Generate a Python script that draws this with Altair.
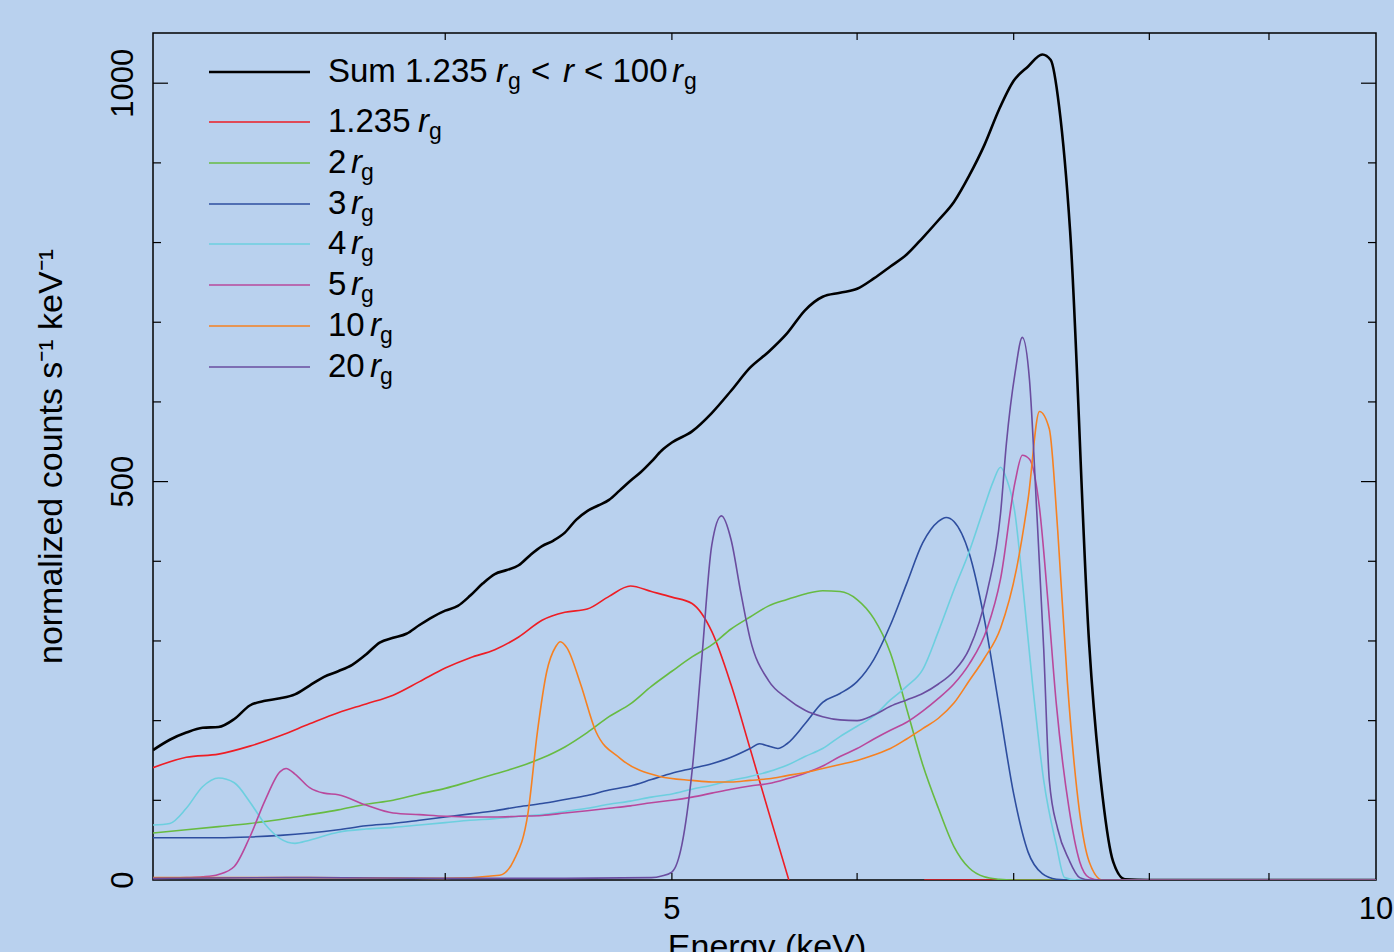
import altair as alt
import pandas as pd

# ---------------- data ----------------
SERIES = ["Sum", "1.235", "2", "3", "4", "5", "10", "20"]
COLORS = ["#000000", "#ee1d24", "#67bb42", "#2e4e9f", "#6dcfdf", "#b9489c", "#f68121", "#6a4d9f"]

E_SUM = [3.00, 3.05, 3.10, 3.15, 3.20, 3.25, 3.30, 3.35, 3.40, 3.45, 3.50, 3.55, 3.60, 3.65, 3.70,
         3.75, 3.80, 3.85, 3.90, 3.95, 4.00, 4.05, 4.10, 4.15, 4.20, 4.25, 4.30, 4.35, 4.40, 4.45,
         4.50, 4.55, 4.60, 4.65, 4.70, 4.75, 4.80, 4.85, 4.90, 4.95, 5.00, 5.10, 5.20, 5.30, 5.40,
         5.50, 5.60, 5.70, 5.80, 5.90, 6.00, 6.10, 6.20, 6.30, 6.40, 6.50, 6.60, 6.70, 6.80, 6.90,
         7.00, 7.10, 7.20, 7.26, 7.32, 7.40, 7.54, 7.64, 7.72, 7.81, 8.00, 9.00, 10.0]
Y_SUM = [163, 176, 185, 191, 192, 202, 219, 225, 228, 233, 244, 255, 262, 270, 283,
         298, 304, 309, 320, 330, 338, 344, 357, 372, 384, 389, 395, 408, 419, 426,
         436, 452, 463, 470, 477, 489, 501, 512, 525, 539, 549, 563, 586, 614, 643,
         663, 686, 715, 732, 737, 742, 755, 770, 785, 806, 828, 851, 884, 922, 967,
         1003, 1021, 1036, 1029, 971, 814, 296, 105, 23, 1, 0, 0, 0]

E_RED = [3.0, 3.1, 3.2, 3.3, 3.4, 3.5, 3.6, 3.7, 3.8, 3.9, 4.0, 4.1, 4.2, 4.3, 4.4, 4.5, 4.6,
         4.7, 4.8, 4.9, 5.0, 5.1, 5.2, 5.3, 5.4, 5.5, 5.61]
Y_RED = [141, 154, 158, 168, 181, 196, 210, 221, 232, 249, 266, 279, 289, 305, 326, 336, 340,
         356, 369, 362, 355, 347, 312, 245, 165, 85, 0]
E_RED2 = [6.41, 10.0]
Y_RED2 = [0, 0]

E_GREEN = [3.0, 3.1, 3.2, 3.3, 3.4, 3.5, 3.6, 3.7, 3.8, 3.9, 4.0, 4.1, 4.2, 4.3, 4.4, 4.5, 4.6,
           4.7, 4.8, 4.9, 5.0, 5.1, 5.2, 5.3, 5.4, 5.5, 5.6, 5.7, 5.8, 5.9, 6.0, 6.1, 6.2, 6.3,
           6.4, 6.5, 6.6, 6.7, 6.8, 6.9, 7.0, 10.0]
Y_GREEN = [59, 63, 67, 71, 76, 82, 88, 95, 100, 108, 115, 124, 133, 142, 153, 167, 185,
           205, 221, 243, 262, 280, 295, 315, 330, 344, 352, 359, 363, 362, 352, 328, 285, 215,
           145, 90, 42, 15, 4, 1, 0, 0]

E_BLUE = [3.0, 3.1, 3.2, 3.3, 3.4, 3.5, 3.6, 3.7, 3.8, 3.9, 4.0, 4.1, 4.2, 4.3, 4.4, 4.5, 4.6,
          4.7, 4.8, 4.9, 5.0, 5.1, 5.2, 5.3, 5.4, 5.45, 5.5, 5.55, 5.6, 5.7, 5.8, 5.9, 6.0, 6.1,
          6.2, 6.3, 6.4, 6.5, 6.55, 6.6, 6.7, 6.8, 6.9, 7.0, 7.1, 7.2, 7.3, 7.4, 10.0]
Y_BLUE = [53, 53, 53, 54, 56, 59, 63, 68, 71, 75, 79, 83, 87, 92, 96, 101, 106,
          113, 118, 126, 134, 140, 146, 154, 165, 171, 168, 165, 171, 196, 223, 234, 249, 277,
          320, 372, 423, 450, 455, 450, 410, 328, 218, 108, 35, 8, 1, 0, 0]

E_CYAN = [3.0, 3.05, 3.1, 3.15, 3.2, 3.25, 3.3, 3.35, 3.4, 3.45, 3.5, 3.6, 3.7, 3.8, 3.9, 4.0,
          4.1, 4.2, 4.3, 4.4, 4.5, 4.6, 4.7, 4.8, 4.9, 5.0, 5.1, 5.2, 5.3, 5.4, 5.5, 5.6, 5.7,
          5.8, 5.9, 6.0, 6.1, 6.2, 6.3, 6.4, 6.5, 6.6, 6.7, 6.8, 6.86, 6.91, 6.95, 7.01, 7.06,
          7.13, 7.21, 7.30, 7.36, 7.45, 10.0]
Y_CYAN = [69, 71, 90, 117, 128, 122, 98, 70, 52, 46, 50, 60, 64, 66, 69, 72,
          75, 77, 80, 82, 86, 90, 95, 99, 104, 108, 114, 119, 125, 130, 136, 144, 155,
          165, 180, 193, 206, 226, 243, 264, 312, 364, 412, 468, 500, 518, 504, 459, 375,
          248, 125, 44, 3, 0, 0]

E_MAG = [3.0, 3.1, 3.15, 3.2, 3.25, 3.3, 3.35, 3.4, 3.42, 3.45, 3.5, 3.55, 3.6, 3.7, 3.8, 3.9,
         4.0, 4.1, 4.2, 4.3, 4.4, 4.5, 4.6, 4.7, 4.8, 4.9, 5.0, 5.1, 5.2, 5.3, 5.4, 5.5, 5.6,
         5.7, 5.8, 5.9, 6.0, 6.1, 6.2, 6.3, 6.4, 6.5, 6.6, 6.7, 6.82, 6.91, 7.01, 7.06, 7.11,
         7.18, 7.24, 7.30, 7.39, 7.47, 7.54, 7.62, 10.0]
Y_MAG = [2, 3, 4, 7, 17, 54, 100, 136, 140, 133, 116, 109, 107, 94, 84, 82,
         80, 79, 79, 80, 81, 84, 87, 90, 93, 97, 100, 104, 109, 114, 118, 121, 127,
         134, 143, 155, 165, 177, 188, 198, 212, 228, 246, 271, 316, 378, 500, 533, 528,
         467, 350, 221, 92, 23, 3, 0, 0]

E_ORANGE = [3.0, 3.5, 4.0, 4.22, 4.28, 4.34, 4.38, 4.42, 4.46, 4.48, 4.51, 4.57, 4.64, 4.75,
            4.94, 5.1, 5.2, 5.3, 5.4, 5.5, 5.6, 5.7, 5.8, 5.9, 6.0, 6.1, 6.2, 6.3, 6.4, 6.5,
            6.6, 6.7, 6.8, 6.91, 7.02, 7.1, 7.18, 7.25, 7.31, 7.38, 7.47, 7.54, 7.64, 10.0]
Y_ORANGE = [3, 3, 2, 6, 25, 85, 186, 261, 293, 299, 291, 246, 186, 153,
            130, 125, 123, 123, 125, 127, 131, 135, 140, 145, 150, 157, 165, 177, 190, 203,
            222, 250, 278, 316, 391, 478, 588, 566, 439, 248, 84, 23, 0, 0]

E_PURPLE = [3.0, 3.5, 4.0, 4.5, 4.9, 4.95, 5.0, 5.05, 5.1, 5.15, 5.2, 5.25, 5.3, 5.35, 5.4,
            5.5, 5.6, 5.7, 5.8, 5.9, 6.0, 6.1, 6.2, 6.3, 6.4, 6.5, 6.6, 6.7, 6.82, 6.91, 6.95,
            7.01, 7.06, 7.11, 7.16, 7.21, 7.25, 7.31, 7.39, 7.47, 7.55, 10.0]
Y_PURPLE = [2, 3, 2, 2, 3, 5, 10, 45, 136, 280, 420, 457, 427, 362, 303,
            250, 228, 213, 205, 201, 200, 207, 218, 226, 234, 246, 262, 290, 362, 460, 548,
            637, 681, 627, 465, 290, 125, 64, 26, 3, 0, 0]

X_TICKS = [4, 5, 6, 7, 8, 9]
Y_MINOR = [100, 200, 300, 400, 600, 700, 800, 900]
Y_MAJOR = [500, 1000]
X_LABELS = [5, 10]
Y_LABELS = [0, 500, 1000]
X_TITLE = "Energy (keV)"
Y_TITLE = "normalized counts s⁻¹ keV⁻¹"

# ---------------- layout ----------------
W, H = 1223, 847
FONT = "Liberation Sans"

x_scale = alt.Scale(type="log", domain=[3, 10], nice=False)
y_scale = alt.Scale(domain=[0, 1063], nice=False, zero=False)


def frame(es, ys, seg=0):
    return pd.DataFrame({"E": es, "Y": ys, "seg": [seg] * len(es)})


series_data = {
    "Sum": frame(E_SUM, Y_SUM),
    "1.235": pd.concat([frame(E_RED, Y_RED, 0), frame(E_RED2, Y_RED2, 1)]),
    "2": frame(E_GREEN, Y_GREEN),
    "3": frame(E_BLUE, Y_BLUE),
    "4": frame(E_CYAN, Y_CYAN),
    "5": frame(E_MAG, Y_MAG),
    "10": frame(E_ORANGE, Y_ORANGE),
    "20": frame(E_PURPLE, Y_PURPLE),
}

layers = []
for i, name in enumerate(SERIES):
    layers.append(
        alt.Chart(series_data[name]).mark_line(
            clip=True, interpolate="monotone", color=COLORS[i],
            strokeWidth=2.6 if name == "Sum" else 1.6,
        ).encode(
            x=alt.X("E:Q", scale=x_scale, axis=None),
            y=alt.Y("Y:Q", scale=y_scale, axis=None),
            detail="seg:N",
        )
    )

# inward ticks on all four sides
xt = pd.DataFrame({"E": X_TICKS})
for y0, y1 in [(H, H - 7), (0, 7)]:
    layers.append(alt.Chart(xt).mark_rule(color="black", strokeWidth=1.2).encode(
        x=alt.X("E:Q", scale=x_scale, axis=None), y=alt.value(y0), y2=alt.value(y1)))
for vals, ln in [(Y_MINOR, 8), (Y_MAJOR, 15)]:
    yt = pd.DataFrame({"Y": vals})
    for x0, x1 in [(0, ln), (W, W - ln)]:
        layers.append(alt.Chart(yt).mark_rule(color="black", strokeWidth=1.2).encode(
            y=alt.Y("Y:Q", scale=y_scale, axis=None), x=alt.value(x0), x2=alt.value(x1)))

# tick labels (through the scales)
xl = pd.DataFrame({"E": X_LABELS, "t": [str(v) for v in X_LABELS]})
layers.append(alt.Chart(xl).mark_text(
    font=FONT, fontSize=31, color="black", align="center", baseline="alphabetic").encode(
    x=alt.X("E:Q", scale=x_scale, axis=None), y=alt.value(H + 39), text="t:N"))
yl = pd.DataFrame({"Y": Y_LABELS, "t": [str(v) for v in Y_LABELS]})
layers.append(alt.Chart(yl).mark_text(
    font=FONT, fontSize=31, color="black", align="center", baseline="alphabetic",
    angle=270).encode(
    y=alt.Y("Y:Q", scale=y_scale, axis=None), x=alt.value(-20), text="t:N"))

# axis titles
layers.append(alt.Chart(pd.DataFrame({"t": [X_TITLE]})).mark_text(
    font=FONT, fontSize=34, color="black", align="center", baseline="alphabetic").encode(
    x=alt.value(614), y=alt.value(H + 78), text="t:N"))
layers.append(alt.Chart(pd.DataFrame({"t": [Y_TITLE]})).mark_text(
    font=FONT, fontSize=34, color="black", align="center", baseline="alphabetic",
    angle=270).encode(
    x=alt.value(-91), y=alt.value(H / 2), text="t:N"))

# ---------------- hand-built legend ----------------
ROW_Y = [39, 89, 130, 171, 211, 252, 293, 334]
leg_lines = pd.DataFrame({"name": SERIES, "ly": ROW_Y})
for i, name in enumerate(SERIES):
    layers.append(alt.Chart(leg_lines[leg_lines.name == name]).mark_rule(
        color=COLORS[i], strokeWidth=2.6 if name == "Sum" else 1.6).encode(
        x=alt.value(56), x2=alt.value(157),
        y=alt.Y("ly:Q", scale=None, axis=None)))

pieces = []
row0 = [("n", 175, "Sum 1.235"), ("i", 343, "r"), ("s", 355, "g"), ("n", 378, "<"),
        ("i", 410, "r"), ("n", 431, "< 100"), ("i", 519, "r"), ("s", 531, "g")]
for k, px, t in row0:
    pieces.append((k, px, ROW_Y[0] + 10, t))
for r, name in enumerate(SERIES[1:], start=1):
    if name == "1.235":
        rx, gx = 265, 276
    elif len(name) == 1:
        rx, gx = 198, 208
    else:
        rx, gx = 217, 227
    base = ROW_Y[r] + 10
    pieces += [("n", 175, base, name), ("i", rx, base, "r"), ("s", gx, base, "g")]
pdf = pd.DataFrame(pieces, columns=["kind", "px", "py", "t"])
pdf.loc[pdf.kind == "s", "py"] += 7

for kind, size, style in [("n", 33, "normal"), ("i", 33, "italic"), ("s", 23, "normal")]:
    layers.append(alt.Chart(pdf[pdf.kind == kind]).mark_text(
        align="left", baseline="alphabetic", font=FONT, fontSize=size, fontStyle=style,
        color="black").encode(
        x=alt.X("px:Q", scale=None, axis=None),
        y=alt.Y("py:Q", scale=None, axis=None),
        text="t:N"))

chart = alt.layer(*layers).properties(
    width=W, height=H,
    autosize=alt.AutoSizeParams(type="none"),
    padding={"left": 153, "top": 33, "right": 18, "bottom": 72},
).configure(background="#b9d1ee").configure_view(stroke="black", strokeWidth=1.5)

chart.save("out.html", embed_options={"renderer": "svg", "actions": False})
